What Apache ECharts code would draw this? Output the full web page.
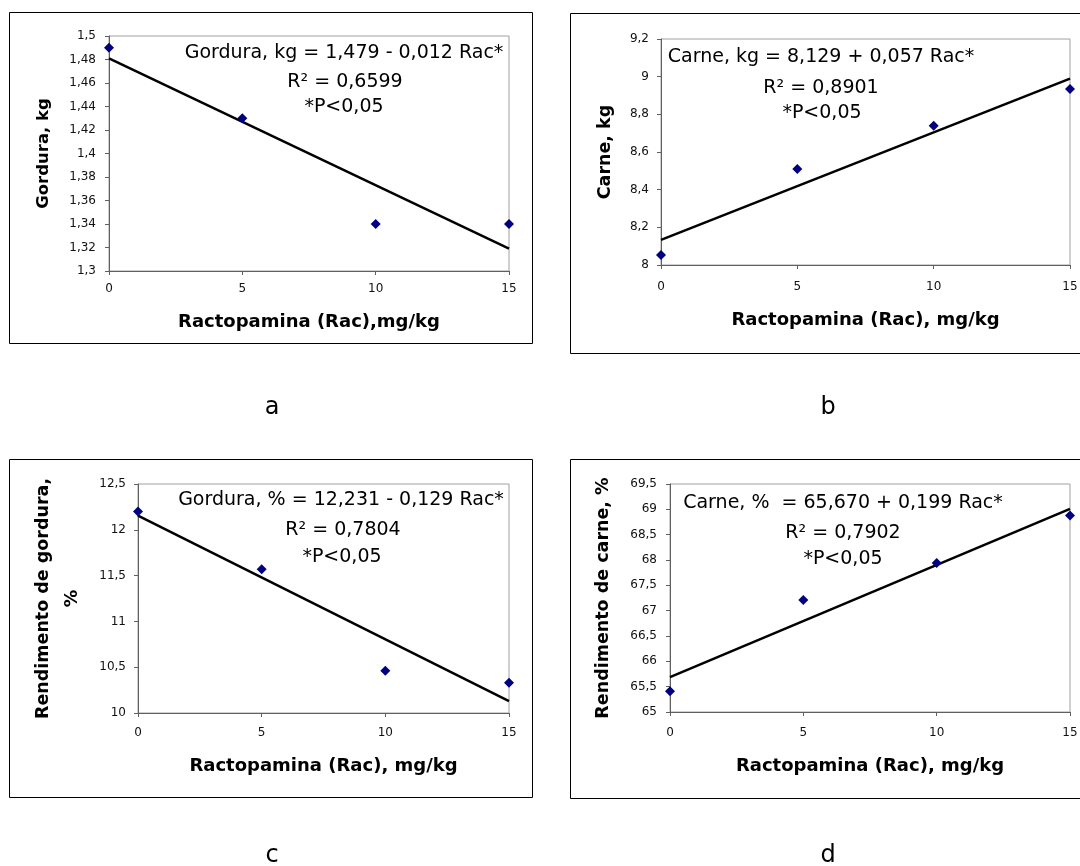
<!DOCTYPE html>
<html><head><meta charset="utf-8">
<script src="https://cdn.jsdelivr.net/npm/echarts@6/dist/echarts.min.js"></script>
<style>html,body{margin:0;padding:0;background:#fff}#c{width:1080px;height:866px}</style>
</head><body><div id="c"></div>
<script>
// ---- data ----
const xValues = [0, 5, 10, 15];
const gorduraKg = [1.49, 1.43, 1.34, 1.34];
const carneKg = [8.053, 8.51, 8.74, 8.935];
const gorduraPct = [12.2, 11.57, 10.46, 10.33];
const carnePct = [65.41, 67.21, 67.94, 68.88];
const trendX = [0, 15];
const trendGorduraKg = [1.481, 1.319];
const trendCarneKg = [8.133, 8.99];
const trendGorduraPct = [12.155, 10.13];
const trendCarnePct = [65.69, 69.01];
const xTitles = ['Ractopamina (Rac),mg/kg', 'Ractopamina (Rac), mg/kg', 'Ractopamina (Rac), mg/kg', 'Ractopamina (Rac), mg/kg'];
const yTitles = ['Gordura, kg', 'Carne, kg', 'Rendimento de gordura,\n%', 'Rendimento de carne, %'];
const equations = ['Gordura, kg = 1,479 - 0,012 Rac*', 'Carne, kg = 8,129 + 0,057 Rac*', 'Gordura, % = 12,231 - 0,129 Rac*', 'Carne, %  = 65,670 + 0,199 Rac*'];
const r2Texts = ['R² = 0,6599', 'R² = 0,8901', 'R² = 0,7804', 'R² = 0,7902'];
const pText = '*P<0,05';
const captions = ['a', 'b', 'c', 'd'];
const yRanges = [[1.3, 1.5, 0.02], [8, 9.2, 0.2], [10, 12.5, 0.5], [65, 69.5, 0.5]];
const xRange = [0, 15, 5];

const seriesValues = [gorduraKg, carneKg, gorduraPct, carnePct];
const trendValues = [trendGorduraKg, trendCarneKg, trendGorduraPct, trendCarnePct];

// ---- layout ----
const FONT = 'DejaVu Sans';
const grids = [
  {left: 109, top: 36, width: 400, height: 235},
  {left: 661, top: 39, width: 409, height: 226},
  {left: 138, top: 484, width: 371, height: 229},
  {left: 670, top: 484, width: 400, height: 228}
];
const yNameGap = [54, 45, 51, 56];
const yNameSize = [16.5, 17.5, 17.5, 17.5];
const yNameLH = [22, 22, 29, 22];
const xNameGap = [40, 44, 42, 43];
const xLabelMargin = [11, 15, 13, 14];
const yLabelMargin = [13, 12, 12, 13];
const eqPos = [
  [[344, 53], [345, 82], [344, 107]],
  [[821, 57], [821, 88], [822, 113]],
  [[341, 500], [343, 530], [342, 557]],
  [[843, 503], [843, 533], [843, 559]]
];
const boxes = [[9, 12, 523, 331], [570, 13, 530, 340], [9, 459, 523, 338], [570, 459, 530, 339]];
const capPos = [[272, 408], [828, 408], [272, 856], [828, 856]];

function fmt(v) { return String(+v.toFixed(3)).replace('.', ','); }

const option = {
  animation: false,
  backgroundColor: '#fff',
  grid: grids.map(g => Object.assign({show: true, borderColor: '#a0a0a0', borderWidth: 1, backgroundColor: 'transparent', containLabel: false, outerBoundsMode: 'none'}, g)),
  xAxis: grids.map((g, i) => ({
    gridIndex: i, type: 'value', min: xRange[0], max: xRange[1], interval: xRange[2],
    name: xTitles[i], nameLocation: 'middle', nameGap: xNameGap[i],
    nameTextStyle: {fontFamily: FONT, fontWeight: 'bold', fontSize: 18, color: '#000', lineHeight: 22},
    axisLine: {show: true, onZero: false, lineStyle: {color: '#606060', width: 1}},
    axisTick: {show: true, inside: false, length: 4, lineStyle: {color: '#606060'}},
    axisLabel: {show: true, margin: xLabelMargin[i], fontFamily: FONT, fontSize: 12, color: '#111', lineHeight: 14, formatter: fmt},
    splitLine: {show: false}
  })),
  yAxis: grids.map((g, i) => ({
    gridIndex: i, type: 'value', min: yRanges[i][0], max: yRanges[i][1], interval: yRanges[i][2],
    name: yTitles[i], nameLocation: 'middle', nameGap: yNameGap[i],
    nameTextStyle: {fontFamily: FONT, fontWeight: 'bold', fontSize: yNameSize[i], color: '#000', lineHeight: yNameLH[i], align: 'center'},
    axisLine: {show: true, onZero: false, lineStyle: {color: '#606060', width: 1}},
    axisTick: {show: true, inside: false, length: 4, lineStyle: {color: '#606060'}},
    axisLabel: {show: true, margin: yLabelMargin[i], fontFamily: FONT, fontSize: 12, color: '#111', formatter: fmt},
    splitLine: {show: false}
  })),
  series: [],
  graphic: []
};

seriesValues.forEach((vals, i) => {
  option.series.push({
    type: 'line', xAxisIndex: i, yAxisIndex: i, z: 2,
    data: trendX.map((x, k) => [x, trendValues[i][k]]),
    symbol: 'none', lineStyle: {color: '#000', width: 2.5}, silent: true
  });
  option.series.push({
    type: 'scatter', xAxisIndex: i, yAxisIndex: i, z: 3,
    data: xValues.map((x, k) => [x, vals[k]]),
    symbol: 'diamond', symbolSize: 10, itemStyle: {color: '#000080', opacity: 1}
  });
});

boxes.forEach(b => {
  option.graphic.push({type: 'rect', silent: true, z: 0,
    shape: {x: b[0] + 0.5, y: b[1] + 0.5, width: b[2], height: b[3]},
    style: {fill: 'none', stroke: '#000', lineWidth: 1}});
});

const textStyleEq = {fontFamily: FONT, fontSize: 19, fill: '#000', textAlign: 'center', textVerticalAlign: 'middle'};
equations.forEach((eq, i) => {
  const lines = [eq, r2Texts[i], pText];
  lines.forEach((t, k) => {
    option.graphic.push({type: 'text', silent: true, z: 10, x: eqPos[i][k][0], y: eqPos[i][k][1],
      style: Object.assign({text: t}, textStyleEq)});
  });
  option.graphic.push({type: 'text', silent: true, z: 10, x: capPos[i][0], y: capPos[i][1],
    style: {text: captions[i], fontFamily: FONT, fontSize: 24, fill: '#000', textAlign: 'center', textVerticalAlign: 'middle'}});
});

const chart = echarts.init(document.getElementById('c'), null, {renderer: 'canvas'});
chart.setOption(option);
</script>
</body></html>
